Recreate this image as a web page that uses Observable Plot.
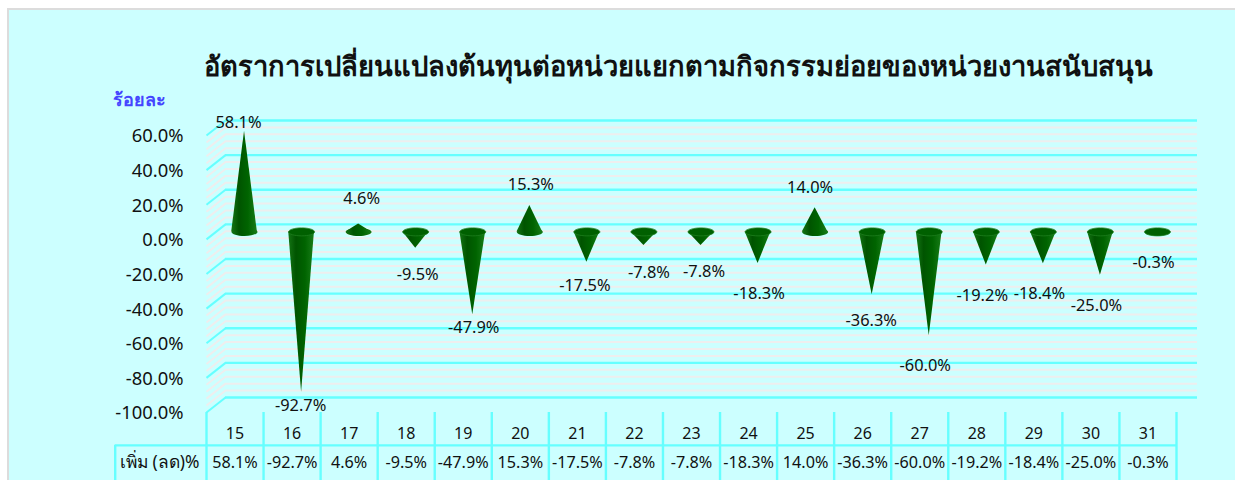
<!DOCTYPE html>
<html lang="th">
<head>
<meta charset="utf-8">
<title>อัตราการเปลี่ยนแปลงต้นทุนต่อหน่วย</title>
<script src="https://cdn.jsdelivr.net/npm/d3@7"></script>
<script src="https://cdn.jsdelivr.net/npm/@observablehq/plot@0.6"></script>
<style>
html,body{margin:0;padding:0;background:#fff;overflow:hidden;width:1235px;height:480px}
#frame{position:absolute;left:7px;top:8px;width:1240px;height:490px;background:#ccffff;border:2px solid #dcdcdc;box-sizing:border-box}
#chart{position:absolute;left:0;top:0}
#chart svg{display:block;background:none}
</style>
</head>
<body>
<div id="frame"></div>
<div id="chart"></div>
<script>
const titleText = "อัตราการเปลี่ยนแปลงต้นทุนต่อหน่วยแยกตามกิจกรรมย่อยของหน่วยงานสนับสนุน";
const unitText = "ร้อยละ";
const rowLabel = "เพิ่ม (ลด)%";
const categories = ["15","16","17","18","19","20","21","22","23","24","25","26","27","28","29","30","31"];
const changes = [58.1,-92.7,4.6,-9.5,-47.9,15.3,-17.5,-7.8,-7.8,-18.3,14.0,-36.3,-60.0,-19.2,-18.4,-25.0,-0.3];
const majorTicks = [-100,-80,-60,-40,-20,0,20,40,60];
const minorTicks = d3.range(-100, 61, 4).filter(t => t % 20 !== 0);

const FONT = "'Noto Sans', sans-serif";
const pct = v => v.toFixed(1) + "%";
const rows = categories.map((c, i) => ({c, i, v: changes[i], mid: i + 0.5}));
const halfBase = 0.225;
const cones = rows.flatMap(r => [
  {c: r.c, x: r.mid - halfBase, y: 0},
  {c: r.c, x: r.mid, y: r.v},
  {c: r.c, x: r.mid + halfBase, y: 0}
]);
const ellipse = (rx, ry) => ({draw(p) {
  const k = 0.5523;
  p.moveTo(-rx, 0);
  p.bezierCurveTo(-rx, -k * ry, -k * rx, -ry, 0, -ry);
  p.bezierCurveTo(k * rx, -ry, rx, -k * ry, rx, 0);
  p.bezierCurveTo(rx, k * ry, k * rx, ry, 0, ry);
  p.bezierCurveTo(-k * rx, ry, -rx, k * ry, -rx, 0);
  p.closePath();
}});
// per-label pixel nudges from the cone tip, as in the reference
const nudge = [[-6,-9],[-1,13],[3,-25],[2,26],[1,13],[1,-21],[-2,24],[5,27],[3,26],[1,30],[-5,-20],[-1,26],[-4,30],[-4,31],[-4,30],[-4,31],[-4,30]];
const CYAN = "#66ffff", GREY = "#eeeeee";
const backX = {dx: 19, dy: -15}, midX = {dx: 9.5, dy: -7.5};
const up = rows.filter(r => r.v >= 0), down = rows.filter(r => r.v < 0);

const plot = Plot.plot({
  width: 1235, height: 480,
  marginLeft: 206, marginRight: 59, marginTop: 135, marginBottom: 68,
  style: {background: "none", fontFamily: FONT, overflow: "visible"},
  x: {type: "linear", domain: [0, 17], axis: null},
  y: {domain: [-100, 60], axis: null},
  marks: [
    // side wall and back wall
    Plot.link(minorTicks, {x1: () => 0, x2: () => 1/3, y1: d => d, y2: d => d + 8.66, stroke: GREY, strokeWidth: 2}),
    Plot.ruleY(minorTicks, {x1: 0, x2: 17.035, stroke: GREY, strokeWidth: 2, ...backX}),
    Plot.link(majorTicks, {x1: () => 0, x2: () => 1/3, y1: d => d, y2: d => d + 8.66, stroke: CYAN, strokeWidth: 2}),
    Plot.ruleY(majorTicks, {x1: 0, x2: 17.035, stroke: CYAN, strokeWidth: 2.4, ...backX}),
    // axis
    Plot.axisY({ticks: majorTicks, tickSize: 0, tickPadding: 23, tickFormat: pct, fontSize: 18.4, dy: 1, fill: "#111", label: null}),
    // cones
    Plot.dot(rows.filter(r => r.c === "17"), {x: "mid", y: () => 0, r: 5, symbol: ellipse(13.5, 4.5), fill: "#fff", ...midX}),
    Plot.dot(up, {x: "mid", y: () => 0, r: 5, symbol: ellipse(13, 4), fill: "url(#coneFill)", ...midX}),
    Plot.area(cones, {x1: "x", y1: 0, y2: "y", z: "c", fill: "url(#coneFill)", ...midX}),
    Plot.dot(down, {x: "mid", y: () => 0, r: 5, symbol: ellipse(13, 4), fill: "#006000", stroke: "#1f7f1f", strokeWidth: 0.8, ...midX}),
    // data labels
    ...rows.map(r => Plot.text([r], {x: "mid", y: "v", text: d => pct(d.v), fontSize: 16.4, fill: "#111",
      dx: midX.dx + nudge[r.i][0], dy: midX.dy + nudge[r.i][1]})),
    // table
    Plot.ruleX(d3.range(0, 18), {y1: -100, y2: -142, stroke: CYAN, strokeWidth: 2.4}),
    Plot.ruleX([-1.6], {y1: -119, y2: -142, stroke: CYAN, strokeWidth: 2.4}),
    Plot.ruleY([-119], {x1: -1.6, x2: 17, stroke: CYAN, strokeWidth: 2.4}),
    Plot.text(rows, {x: "mid", y: () => -100, dy: 21, text: "c", fontSize: 16, fill: "#111"}),
    Plot.text(rows, {x: "mid", y: () => -100, dy: 50, text: d => pct(d.v), fontSize: 16.2, fill: "#111"}),
    Plot.text([rowLabel], {x: () => -0.82, y: () => -100, dy: 50, fontSize: 17.4, fill: "#111"}),
    // titles
    Plot.text([unitText], {x: () => -1.63, y: () => 60, dy: -35, textAnchor: "start", fontSize: 18, fontWeight: 700, fill: "#4545ff"}),
    Plot.text([titleText], {x: () => 8.28, y: () => 60, dy: -68, fontSize: 27.3, fontWeight: 700, fill: "#111"})
  ]
});
const defs = d3.select(plot).insert("defs", ":first-child");
const g = defs.append("linearGradient").attr("id", "coneFill").attr("x1", 0).attr("x2", 1).attr("y1", 0).attr("y2", 0);
[[0,"#157515"],[0.3,"#005400"],[0.65,"#006400"],[1,"#187c18"]].forEach(([o, c]) => g.append("stop").attr("offset", o).attr("stop-color", c));
document.getElementById("chart").append(plot);
</script>
</body>
</html>
